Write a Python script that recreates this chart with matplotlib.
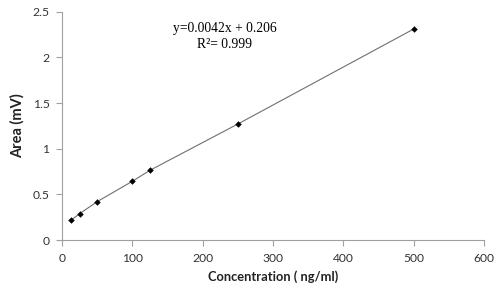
import numpy as np
import matplotlib.pyplot as plt

conc = [12.5, 25, 50, 100, 125, 250, 500]
area = [0.216, 0.288, 0.42, 0.643, 0.763, 1.27, 2.31]
x_ticks = [0, 100, 200, 300, 400, 500, 600]
y_ticks = [0, 0.5, 1, 1.5, 2, 2.5]
y_tick_labels = ['0', '0.5', '1', '1.5', '2', '2.5']

plt.rcParams['font.family'] = ['Lato', 'DejaVu Sans']

fig = plt.figure(figsize=(5, 2.92), dpi=100)
ax = fig.add_axes([0.124, 0.178, 0.844, 0.782])

ax.plot(conc, area, color='#707070', lw=0.8, zorder=1)
ax.scatter(conc, area, s=11, marker='D', color='black', zorder=2, linewidths=0)

ax.set_xlim(0, 600)
ax.set_ylim(0, 2.5)
ax.set_xticks(x_ticks)
ax.set_yticks(y_ticks)
ax.set_yticklabels(y_tick_labels)

for side in ['top', 'right']:
    ax.spines[side].set_visible(False)
for side in ['left', 'bottom']:
    ax.spines[side].set_color('#a0a0a0')
    ax.spines[side].set_linewidth(0.8)
ax.tick_params(colors='#a0a0a0', labelcolor='#333333', labelsize=8.7, length=4, width=0.8, pad=5)

ax.set_xlabel('Concentration ( ng/ml)', fontsize=9.3, fontweight='bold', color='#222222', labelpad=5)
ax.set_ylabel('Area (mV)', fontsize=10.5, fontweight='bold', color='#222222', labelpad=6)

ax.text(0.386, 0.928, 'y=0.0042x + 0.206', transform=ax.transAxes, ha='center', va='center',
        family='Liberation Serif', fontsize=9.8)
ax.text(0.386, 0.858, 'R\u00b2= 0.999', transform=ax.transAxes, ha='center', va='center',
        family='Liberation Serif', fontsize=9.8)

fig.savefig('out.png', dpi=100)
